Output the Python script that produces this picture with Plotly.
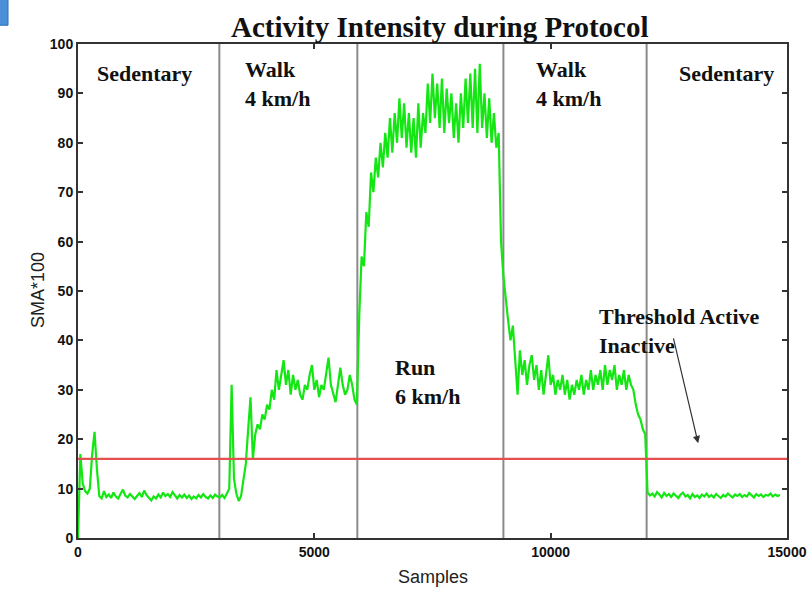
import numpy as np
import plotly.graph_objects as go

# ---------------- data ----------------
SAMPLE_STEP = 50

sedentary_1_start = 0
sedentary_1 = [0, 17, 11, 9.5, 9, 10, 17, 21.5, 14, 8.5, 8, 9.5, 8.3, 8.8, 8.1, 9.2, 8.4, 8.0, 8.9, 9.8,
               8.6, 8.2, 8.9, 8.4, 7.9, 8.5, 9.1, 8.3, 9.6, 8.7, 8.1, 7.6, 8.4, 8.0, 8.8, 8.2, 9.2, 8.5, 8.9, 8.3,
               9.3, 8.6, 8.0, 8.7, 8.2, 8.8, 8.1, 8.6, 7.9, 8.4, 8.0, 8.7, 8.2, 8.9, 8.3, 8.0, 8.6, 8.1, 8.8, 8.4]

walk_1_start = 3000
walk_1 = [8.2, 8.7, 8.1, 9.0, 10, 31, 12, 9, 7.5, 8.5, 12, 15, 22, 28.5, 16, 21, 23, 22, 25, 24,
          27, 26, 30, 28, 34, 30, 33, 36, 31, 34, 29, 33, 30, 32, 29, 28, 31, 30, 33, 35,
          30, 32, 28.5, 31, 30, 33, 36.5, 31, 29, 27.5, 31, 34.5, 31, 29, 30, 33, 31, 28, 27]

run_start = 5950
run = [45, 57, 55, 66, 63, 74, 70, 77, 73, 80, 75, 82, 77, 85, 78, 86, 80, 89, 81, 88,
       79, 86, 78, 85, 77, 88, 79, 86, 82, 92, 84, 94, 85, 92, 83, 93, 82, 91, 84, 90,
       81, 88, 80, 90, 83, 93, 84, 94, 83, 95, 82, 96, 83, 90, 81, 89, 80, 86, 79, 82, 60]

walk_2_start = 9000
walk_2 = [53, 48, 44, 40, 43, 36, 29, 38, 33, 36, 31, 35, 37, 32, 35, 30, 34, 29, 33, 37,
          31, 33, 29, 32, 30, 33, 29, 32, 28, 31, 29, 32, 30, 33, 29, 32, 30, 34, 30, 33,
          31, 34, 30, 35, 31, 34, 32, 35, 30, 33, 31, 34, 30, 33, 31, 30, 27, 25, 24, 22, 21]

sedentary_2_start = 12050
sedentary_2 = [9.2, 8.6, 9.0, 8.4, 9.3, 8.8, 8.2, 9.1, 8.5, 8.9, 8.3, 9.0, 8.6, 8.1, 8.8, 9.2, 8.4, 8.7, 8.0, 8.9,
               8.3, 8.6, 8.1, 8.8, 8.4, 9.0, 8.3, 8.7, 8.2, 8.9, 8.5, 8.1, 8.7, 8.4, 9.0, 8.6, 8.2, 8.8, 8.5, 8.9,
               8.3, 8.7, 8.4, 9.1, 8.6, 8.2, 8.9, 8.5, 8.8, 8.3, 8.7, 8.6, 9.0, 8.4, 8.8, 8.5, 8.7]

phase_boundaries = [2990, 5910, 9000, 12030]
threshold = 16

x_ticks = [0, 5000, 10000, 15000]
y_ticks = list(range(0, 101, 10))

# ---------------- build series ----------------
segments = [(sedentary_1_start, sedentary_1), (walk_1_start, walk_1), (run_start, run),
            (walk_2_start, walk_2), (sedentary_2_start, sedentary_2)]
xs, ys = [], []
for start, vals in segments:
    xs.extend(start + SAMPLE_STEP * np.arange(len(vals)))
    ys.extend(vals)

fig = go.Figure()
fig.add_trace(go.Scatter(x=xs, y=ys, mode="lines",
                         line=dict(color="#14e614", width=2.2), hoverinfo="skip"))
fig.add_trace(go.Scatter(x=[0, 15000], y=[threshold, threshold], mode="lines",
                         line=dict(color="#e45050", width=2.2), hoverinfo="skip"))

for b in phase_boundaries:
    fig.add_shape(type="line", xref="x", yref="paper", x0=b, x1=b, y0=0, y1=1,
                  line=dict(color="#8a8a8a", width=2), layer="below")

serif = dict(family="Liberation Serif", size=22, color="#111111", weight="bold")
labels = [
    ("Sedentary", 366, 94.0),
    ("Walk<br>4 km/h", 3495, 92.0),
    ("Run<br>6 km/h", 6660, 31.6),
    ("Walk<br>4 km/h", 9650, 92.0),
    ("Sedentary", 12673, 94.0),
    ("Threshold Active<br>Inactive", 10981, 41.9),
]
for txt, x, y in labels:
    fig.add_annotation(text=txt, x=x, y=y, xref="x", yref="y", xanchor="left", yanchor="middle",
                       align="left", showarrow=False, font=serif)

fig.add_annotation(x=13120, y=19.2, ax=12590, ay=40.7, xref="x", yref="y", axref="x", ayref="y",
                   text="", showarrow=True, arrowhead=2, arrowsize=1.2, arrowwidth=1.2,
                   arrowcolor="#333333")

fig.add_annotation(text="Activity Intensity during Protocol", xref="paper", yref="paper",
                   x=0.5106, y=1.034, xanchor="center", yanchor="middle", showarrow=False,
                   font=dict(family="Liberation Serif", size=29, color="#111111", weight="bold"))
fig.add_annotation(text="Samples", xref="paper", yref="paper", x=0.5, y=-0.079,
                   xanchor="center", yanchor="middle", showarrow=False,
                   font=dict(family="Liberation Sans", size=18, color="#222222"))
fig.add_annotation(text="SMA*100", xref="paper", yref="paper", x=-0.0564, y=0.502,
                   xanchor="center", yanchor="middle", textangle=-90, showarrow=False,
                   font=dict(family="Liberation Sans", size=18, color="#222222"))

# small blue box in the top-left corner of the picture
fig.add_shape(type="rect", xref="paper", yref="paper", x0=-0.115, x1=-0.0987, y0=1.038, y1=1.095,
              fillcolor="#4a8fd8", line=dict(color="#2a6fb8", width=1))

axis_common = dict(showline=True, linecolor="#333333", linewidth=2, mirror="ticks",
                   ticks="inside", ticklen=5, tickwidth=1.5, tickcolor="#333333",
                   showgrid=False, zeroline=False,
                   tickfont=dict(family="Liberation Sans", size=14, color="#111111", weight="bold"))

fig.update_layout(
    width=809, height=589,
    margin=dict(l=78, r=22, t=44, b=51, autoexpand=False),
    paper_bgcolor="white", plot_bgcolor="white",
    showlegend=False,
    xaxis=dict(range=[0, 15000], tickvals=x_ticks, ticktext=[str(v) for v in x_ticks], **axis_common),
    yaxis=dict(range=[0, 100], tickvals=y_ticks, ticktext=[str(v) for v in y_ticks], **axis_common),
)

fig.write_html("out.html", config={"displayModeBar": False},
               post_script="document.body.style.margin='0';document.body.style.padding='0';")
